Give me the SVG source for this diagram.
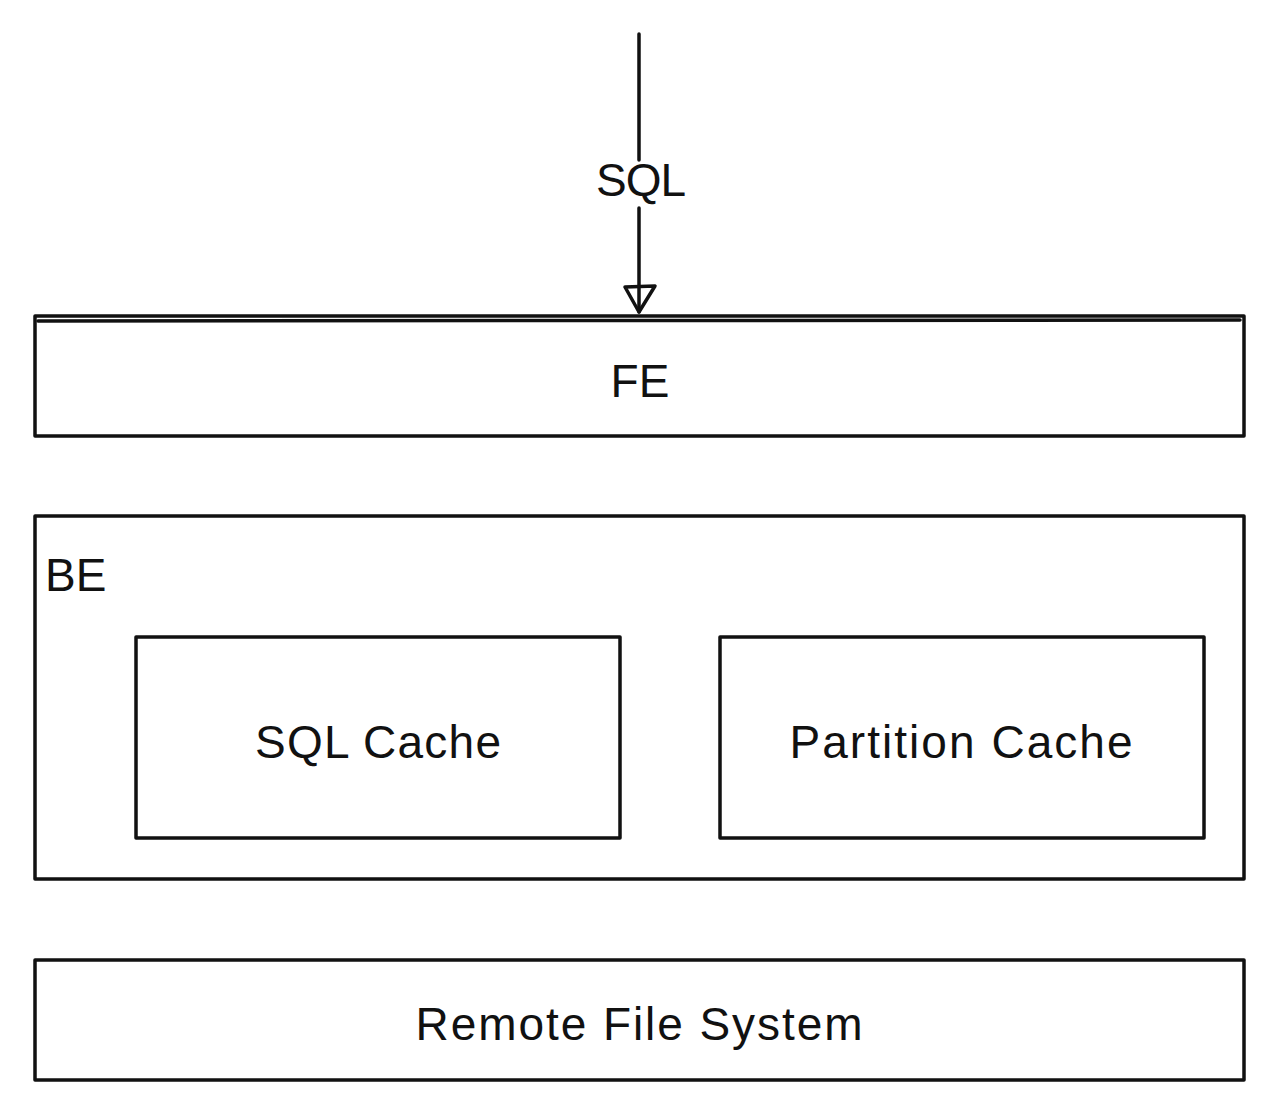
<svg xmlns="http://www.w3.org/2000/svg" width="1280" height="1109" viewBox="0 0 1280 1109">
<style>
.box{fill:none;stroke:#111111;stroke-width:3.5;stroke-linejoin:round;stroke-linecap:round}
.t{font-family:"Liberation Sans",Arial,sans-serif;font-size:46px;fill:#111111}
.c{text-anchor:middle}
.ln{fill:none;stroke:#111111;stroke-width:3.5;stroke-linecap:round;stroke-linejoin:round}
</style>
<rect width="1280" height="1109" fill="#ffffff"/>
<g id="connectors">
<path class="ln" d="M639,34 L639,160 M639,208 L639,312"/>
<path class="ln" d="M625,287 L639,312 L655,286 Z" fill="#ffffff"/>
<text class="t c" x="641" y="196" textLength="90">SQL</text>
</g>
<g id="fe">
<rect class="box" x="35" y="316" width="1209" height="120"/>
<path class="ln" d="M38,321 L1240,320" stroke-width="1.5"/>
<text class="t c" x="640" y="397">FE</text>
</g>
<g id="be">
<rect class="box" x="35" y="516" width="1209" height="363"/>
<text class="t" x="45" y="591">BE</text>
</g>
<g id="sql-cache">
<rect class="box" x="136" y="637" width="484" height="201"/>
<text class="t c" x="378" y="758" textLength="246">SQL Cache</text>
</g>
<g id="partition-cache">
<rect class="box" x="720" y="637" width="484" height="201"/>
<text class="t c" x="961" y="758" textLength="343">Partition Cache</text>
</g>
<g id="remote-fs">
<rect class="box" x="35" y="960" width="1209" height="120"/>
<text class="t c" x="639" y="1040" textLength="447">Remote File System</text>
</g>
</svg>
